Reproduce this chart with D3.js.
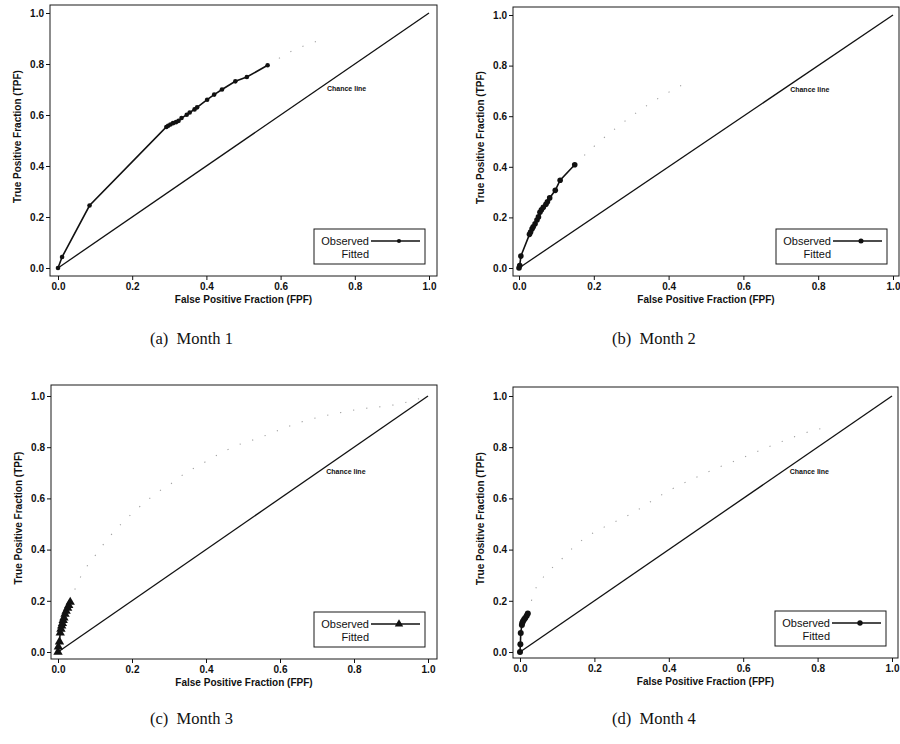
<!DOCTYPE html>
<html>
<head>
<meta charset="utf-8">
<script src="https://cdn.jsdelivr.net/npm/d3@7"></script>
<style>
  html, body { margin: 0; padding: 0; background: #fff; }
  svg { display: block; }
  .tick text { font-family: "Liberation Sans", Arial, sans-serif; font-size: 10px; font-weight: bold; fill: #111; }
  .tick line { stroke: #111; stroke-width: 1; }
</style>
</head>
<body>
<svg id="chart" width="900" height="744"></svg>
<script>
// Axis ticks shared by all four ROC panels
const tickValues = [0, 0.2, 0.4, 0.6, 0.8, 1.0];

// Chance (diagonal) line
const chanceLine = [[0, 0], [1, 1]];

// Observed ROC points [FPF, TPF] per month
const observed1 = [
  [0, 0], [0.011, 0.043], [0.085, 0.245], [0.292, 0.553], [0.297, 0.558], [0.303, 0.563],
  [0.31, 0.568], [0.318, 0.572], [0.325, 0.577], [0.333, 0.588], [0.347, 0.601],
  [0.355, 0.61], [0.368, 0.622], [0.375, 0.63], [0.402, 0.66], [0.421, 0.68],
  [0.442, 0.70], [0.478, 0.732], [0.509, 0.749], [0.565, 0.795]
];
const observed2 = [
  [0, 0], [0.002, 0.01], [0.005, 0.047], [0.028, 0.133], [0.031, 0.142], [0.035, 0.155],
  [0.038, 0.163], [0.043, 0.175], [0.048, 0.19], [0.052, 0.202], [0.056, 0.22],
  [0.06, 0.23], [0.065, 0.24], [0.072, 0.252], [0.076, 0.262], [0.082, 0.277],
  [0.097, 0.307], [0.11, 0.347], [0.149, 0.408]
];
const observed3 = [
  [0, 0], [0.001, 0.02], [0.004, 0.04], [0.006, 0.075], [0.008, 0.09], [0.01, 0.102],
  [0.012, 0.112], [0.014, 0.124], [0.016, 0.134], [0.019, 0.148], [0.022, 0.16],
  [0.026, 0.172], [0.029, 0.182], [0.033, 0.195]
];
const observed4 = [
  [0, 0], [0.001, 0.03], [0.002, 0.074], [0.005, 0.105], [0.006, 0.113], [0.008, 0.12],
  [0.011, 0.127], [0.014, 0.133], [0.018, 0.142], [0.021, 0.15]
];

// Fitted (binormal) ROC curves, dotted
const fitted1 = [[0.565, 0.795], [0.6, 0.826], [0.634, 0.854], [0.67, 0.875], [0.706, 0.893]];
const fitted2 = [[0.149, 0.408], [0.2, 0.48], [0.26, 0.554], [0.35, 0.65], [0.447, 0.732]];
const fitted3 = [
  [0.033, 0.195], [0.049, 0.256], [0.076, 0.33], [0.097, 0.37], [0.112, 0.40], [0.139, 0.45],
  [0.203, 0.545], [0.246, 0.598], [0.265, 0.62], [0.301, 0.653], [0.355, 0.709],
  [0.38, 0.727], [0.41, 0.753], [0.504, 0.818], [0.522, 0.826], [0.67, 0.904],
  [0.8, 0.945], [0.935, 0.973], [1, 1]
];
const fitted4 = [
  [0.021, 0.15], [0.04, 0.24], [0.067, 0.30], [0.103, 0.35], [0.152, 0.42], [0.25, 0.505],
  [0.286, 0.53], [0.4, 0.63], [0.5, 0.70], [0.6, 0.76], [0.7, 0.82], [0.79, 0.866], [0.815, 0.875]
];

// Panel captions and labels
const captions = ["(a)  Month 1", "(b)  Month 2", "(c)  Month 3", "(d)  Month 4"];
const xTitle = "False Positive Fraction (FPF)";
const yTitle = "True Positive Fraction (TPF)";
const chanceLabel = "Chance line";
const legendLabels = ["Observed", "Fitted"];

// Page layout of each panel: frame box and the pixel ranges of the unit scales
const panels = [
  { obs: observed1, fit: fitted1, frame: [50, 5, 437, 276],  xr: [58, 429],  yr: [268, 13],  cap: [150, 344], shape: "circle", r: 2.3 },
  { obs: observed2, fit: fitted2, frame: [513, 7, 899, 276], xr: [519, 893], yr: [268, 15],  cap: [612, 344], shape: "circle", r: 2.8 },
  { obs: observed3, fit: fitted3, frame: [51, 385, 437, 659], xr: [58, 428], yr: [652, 396], cap: [150, 724], shape: "triangle", r: 3.0 },
  { obs: observed4, fit: fitted4, frame: [513, 387, 898, 658], xr: [520, 892], yr: [652, 396], cap: [612, 724], shape: "circle", r: 3.0 }
];

const svg = d3.select("#chart");
const fmt = d3.format(".1f");
const sans = '"Liberation Sans", Arial, sans-serif';

function drawMarker(g, shape, cx, cy, r) {
  if (shape === "triangle") {
    g.append("path")
      .attr("d", d3.symbol().type(d3.symbolTriangle).size(r * r * 4.2)())
      .attr("transform", `translate(${cx},${cy})`)
      .attr("fill", "#111");
  } else {
    g.append("circle").attr("cx", cx).attr("cy", cy).attr("r", r).attr("fill", "#111");
  }
}

panels.forEach((p, i) => {
  const [fl, ft, fr, fb] = p.frame;
  const x = d3.scaleLinear().domain([0, 1]).range(p.xr);
  const y = d3.scaleLinear().domain([0, 1]).range(p.yr);
  const g = svg.append("g");

  // plot frame
  g.append("rect")
    .attr("x", fl).attr("y", ft).attr("width", fr - fl).attr("height", fb - ft)
    .attr("fill", "none").attr("stroke", "#1a1a1a").attr("stroke-width", 1);

  // axes
  const xAxis = g.append("g").attr("transform", `translate(0,${fb})`)
    .call(d3.axisBottom(x).tickValues(tickValues).tickSize(4).tickPadding(3).tickFormat(fmt));
  xAxis.select(".domain").remove();
  const yAxis = g.append("g").attr("transform", `translate(${fl},0)`)
    .call(d3.axisLeft(y).tickValues(tickValues).tickSize(4).tickPadding(2).tickFormat(fmt));
  yAxis.select(".domain").remove();

  // axis titles
  g.append("text")
    .attr("x", (fl + fr) / 2).attr("y", fb + 27)
    .attr("text-anchor", "middle")
    .attr("font-family", sans).attr("font-size", 10).attr("font-weight", "bold").attr("fill", "#111")
    .text(xTitle);
  g.append("text")
    .attr("transform", `translate(${fl - 29},${(ft + fb) / 2 - 4}) rotate(-90)`)
    .attr("text-anchor", "middle")
    .attr("font-family", sans).attr("font-size", 10).attr("font-weight", "bold").attr("fill", "#111")
    .text(yTitle);

  const line = d3.line().x(d => x(d[0])).y(d => y(d[1]));

  // chance line
  g.append("path").datum(chanceLine)
    .attr("d", line).attr("fill", "none").attr("stroke", "#111").attr("stroke-width", 1.3);
  g.append("text")
    .attr("x", x(0.725)).attr("y", y(0.695))
    .attr("font-family", sans).attr("font-size", 7).attr("font-weight", "bold").attr("fill", "#111")
    .text(chanceLabel);

  // fitted curve (sparse faint dots)
  g.append("path").datum(p.fit)
    .attr("d", line.curve(d3.curveMonotoneX)).attr("fill", "none")
    .attr("stroke", "#a0a0a0").attr("stroke-width", 1.1)
    .attr("stroke-dasharray", "1.2 12");
  line.curve(d3.curveLinear);

  // observed polyline and markers
  g.append("path").datum(p.obs)
    .attr("d", line).attr("fill", "none").attr("stroke", "#111").attr("stroke-width", 1.6);
  p.obs.forEach(d => drawMarker(g, p.shape, x(d[0]), y(d[1]), p.r));

  // legend
  const lx = fr - 123, ly = fb - 47;
  g.append("rect")
    .attr("x", lx).attr("y", ly).attr("width", 111).attr("height", 35)
    .attr("fill", "#fff").attr("stroke", "#1a1a1a").attr("stroke-width", 1);
  g.append("text")
    .attr("x", lx + 55).attr("y", ly + 16).attr("text-anchor", "end")
    .attr("font-family", sans).attr("font-size", 11).attr("fill", "#111")
    .text(legendLabels[0]);
  g.append("text")
    .attr("x", lx + 55).attr("y", ly + 29).attr("text-anchor", "end")
    .attr("font-family", sans).attr("font-size", 11).attr("fill", "#111")
    .text(legendLabels[1]);
  g.append("line")
    .attr("x1", lx + 57).attr("x2", lx + 106).attr("y1", ly + 12).attr("y2", ly + 12)
    .attr("stroke", "#111").attr("stroke-width", 1.4);
  drawMarker(g, p.shape, lx + 85, ly + 12, p.r * 0.9);

  // caption
  svg.append("text")
    .attr("x", p.cap[0]).attr("y", p.cap[1])
    .attr("font-family", '"Liberation Serif", "DejaVu Serif", serif')
    .attr("font-size", 16.5).attr("fill", "#111")
    .style("white-space", "pre")
    .text(captions[i]);
});
</script>
</body>
</html>
